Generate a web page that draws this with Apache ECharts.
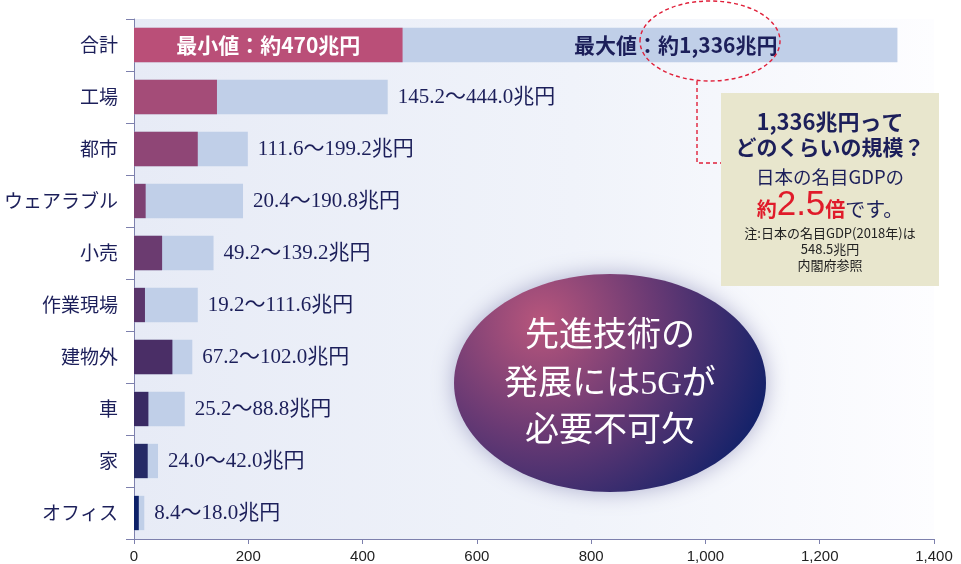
<!DOCTYPE html>
<html>
<head>
<meta charset="utf-8">
<script src="https://cdn.jsdelivr.net/npm/echarts@6/dist/echarts.min.js"></script>
<style>
    html, body { margin: 0; padding: 0; background: #fff; }
    #chart { width: 961px; height: 564px; }
</style>
</head>
<body>
<div id="chart"></div>
<script>
// 分野ごとの市場規模（兆円）
var categories = ['合計', '工場', '都市', 'ウェアラブル', '小売', '作業現場', '建物外', '車', '家', 'オフィス'];
var minValues = [470, 145.2, 111.6, 20.4, 49.2, 19.2, 67.2, 25.2, 24.0, 8.4];
var maxValues = [1336, 444.0, 199.2, 190.8, 139.2, 111.6, 102.0, 88.8, 42.0, 18.0];
var xTicks = [0, 200, 400, 600, 800, 1000, 1200, 1400];

// 最小値バーの色（上から下へ）
var minColors = ['#ba4f78', '#a44c78', '#8f4676', '#7d4173', '#6b3b70', '#5a356b', '#4a2e66', '#392a63', '#252a66', '#0c2068'];
var maxColor = '#c0cfe8';
var navy = '#1c1f5a';
var serif = "'Liberation Serif', 'DejaVu Serif', 'Noto Sans CJK JP', serif";
var sans = "'Noto Sans CJK JP', 'Noto Sans', sans-serif";

var myChart = echarts.init(document.getElementById('chart'));

var maxData = maxValues.map(function (v, i) {
    var item = { value: v };
    if (i === 0) {
        item.label = {
            show: true,
            position: 'insideRight',
            distance: 120,
            color: navy,
            fontFamily: sans,
            fontWeight: 'bold',
            fontSize: 21,
            formatter: '最大値：約' + v.toLocaleString('en-US') + '兆円'
        };
    }
    return item;
});

var minData = minValues.map(function (v, i) {
    var item = { value: v, itemStyle: { color: minColors[i] } };
    if (i === 0) {
        item.label = {
            show: true,
            position: 'inside',
            color: '#fff',
            fontFamily: sans,
            fontWeight: 'bold',
            fontSize: 21,
            formatter: '最小値：約' + v + '兆円'
        };
    }
    return item;
});

var option = {
    animation: false,
    grid: {
        left: 134,
        right: 27,
        top: 19,
        bottom: 25,
        show: true,
        borderWidth: 0,
        backgroundColor: new echarts.graphic.LinearGradient(0, 0, 1, 0, [
            { offset: 0, color: '#e7ebf6' },
            { offset: 0.55, color: '#f0f3fa' },
            { offset: 1, color: '#fdfdff' }
        ])
    },
    xAxis: {
        type: 'value',
        min: xTicks[0],
        max: xTicks[xTicks.length - 1],
        interval: 200,
        axisLine: { show: true, lineStyle: { color: '#7d80ad', width: 1 } },
        axisTick: { show: true, length: 5, lineStyle: { color: '#7d80ad' } },
        splitLine: { show: false },
        axisLabel: {
            color: '#222',
            fontFamily: "'Liberation Sans', Arial, sans-serif",
            fontSize: 15,
            margin: 10,
            formatter: function (v) { return v.toLocaleString('en-US'); }
        }
    },
    yAxis: {
        type: 'category',
        inverse: true,
        data: categories,
        axisLine: { show: true, lineStyle: { color: '#7d80ad', width: 1 } },
        axisTick: { show: true, length: 8, lineStyle: { color: '#7d80ad' } },
        axisLabel: {
            color: navy,
            fontFamily: sans,
            fontSize: 19,
            margin: 16
        }
    },
    series: [
        {
            name: '最大値',
            type: 'bar',
            data: maxData,
            barCategoryGap: '34%',
            barGap: '-100%',
            itemStyle: { color: maxColor },
            label: {
                show: true,
                position: 'right',
                distance: 10,
                color: navy,
                fontFamily: serif,
                fontSize: 21,
                formatter: function (p) {
                    return minValues[p.dataIndex].toFixed(1) + '～' + maxValues[p.dataIndex].toFixed(1) + '兆円';
                }
            },
            z: 2
        },
        {
            name: '最小値',
            type: 'bar',
            data: minData,
            barCategoryGap: '34%',
            barGap: '-100%',
            label: { show: false },
            z: 3
        }
    ],
    graphic: [
        // 楕円のメッセージ
        {
            type: 'ellipse',
            shape: { cx: 610, cy: 383, rx: 156, ry: 109 },
            style: {
                fill: new echarts.graphic.RadialGradient(0.28, 0.22, 1.15, [
                    { offset: 0, color: '#b8567c' },
                    { offset: 0.45, color: '#6a3a74' },
                    { offset: 1, color: '#0a1f68' }
                ]),
                shadowBlur: 22,
                shadowColor: 'rgba(90, 90, 150, 0.45)'
            },
            z: 10
        },
        {
            type: 'text',
            x: 610,
            y: 337,
            style: {
                text: '先進技術の', fill: '#fff', fontFamily: serif, fontSize: 34,
                textAlign: 'center', textVerticalAlign: 'middle'
            },
            z: 11
        },
        {
            type: 'text',
            x: 610,
            y: 385,
            style: {
                text: '発展には5Gが', fill: '#fff', fontFamily: serif, fontSize: 34,
                textAlign: 'center', textVerticalAlign: 'middle'
            },
            z: 11
        },
        {
            type: 'text',
            x: 610,
            y: 432,
            style: {
                text: '必要不可欠', fill: '#fff', fontFamily: serif, fontSize: 34,
                textAlign: 'center', textVerticalAlign: 'middle'
            },
            z: 11
        },
        // 赤い点線の丸と引き出し線
        {
            type: 'ellipse',
            shape: { cx: 710, cy: 41, rx: 70, ry: 40 },
            style: { fill: 'none', stroke: '#e0203a', lineWidth: 1.4, lineDash: [4, 3] },
            z: 12
        },
        {
            type: 'polyline',
            shape: { points: [[697, 81], [697, 163], [721, 163]] },
            style: { fill: 'none', stroke: '#e0203a', lineWidth: 1.4, lineDash: [4, 3] },
            z: 12
        },
        // 説明ボックス
        {
            type: 'rect',
            shape: { x: 721, y: 93, width: 218, height: 193 },
            style: { fill: '#e8e6cd' },
            z: 12
        },
        {
            type: 'text', x: 830, y: 122, z: 13,
            style: {
                text: '1,336兆円って', fill: navy, fontFamily: sans, fontWeight: 'bold', fontSize: 22,
                textAlign: 'center', textVerticalAlign: 'middle'
            }
        },
        {
            type: 'text', x: 830, y: 147, z: 13,
            style: {
                text: 'どのくらいの規模？', fill: navy, fontFamily: sans, fontWeight: 'bold', fontSize: 21,
                textAlign: 'center', textVerticalAlign: 'middle'
            }
        },
        {
            type: 'text', x: 830, y: 177, z: 13,
            style: {
                text: '日本の名目GDPの', fill: navy, fontFamily: sans, fontSize: 18.5,
                textAlign: 'center', textVerticalAlign: 'middle'
            }
        },
        {
            type: 'text', x: 830, y: 205, z: 13,
            style: {
                text: '{r|約}{big|2.5}{r|倍}{n|です。}',
                textAlign: 'center', textVerticalAlign: 'middle',
                rich: {
                    r: { fill: '#e01b2a', fontFamily: sans, fontWeight: 'bold', fontSize: 20, padding: [8, 0, 0, 0] },
                    big: { fill: '#e01b2a', fontFamily: "'Liberation Sans', Arial, sans-serif", fontSize: 35 },
                    n: { fill: navy, fontFamily: sans, fontSize: 20, padding: [8, 0, 0, 0] }
                }
            }
        },
        {
            type: 'text', x: 830, y: 233, z: 13,
            style: {
                text: '注:日本の名目GDP(2018年)は', fill: '#222', fontFamily: sans, fontSize: 13,
                textAlign: 'center', textVerticalAlign: 'middle'
            }
        },
        {
            type: 'text', x: 830, y: 249, z: 13,
            style: {
                text: '548.5兆円', fill: '#222', fontFamily: sans, fontSize: 13,
                textAlign: 'center', textVerticalAlign: 'middle'
            }
        },
        {
            type: 'text', x: 830, y: 265, z: 13,
            style: {
                text: '内閣府参照', fill: '#222', fontFamily: sans, fontSize: 13,
                textAlign: 'center', textVerticalAlign: 'middle'
            }
        }
    ]
};

myChart.setOption(option);
</script>
</body>
</html>
